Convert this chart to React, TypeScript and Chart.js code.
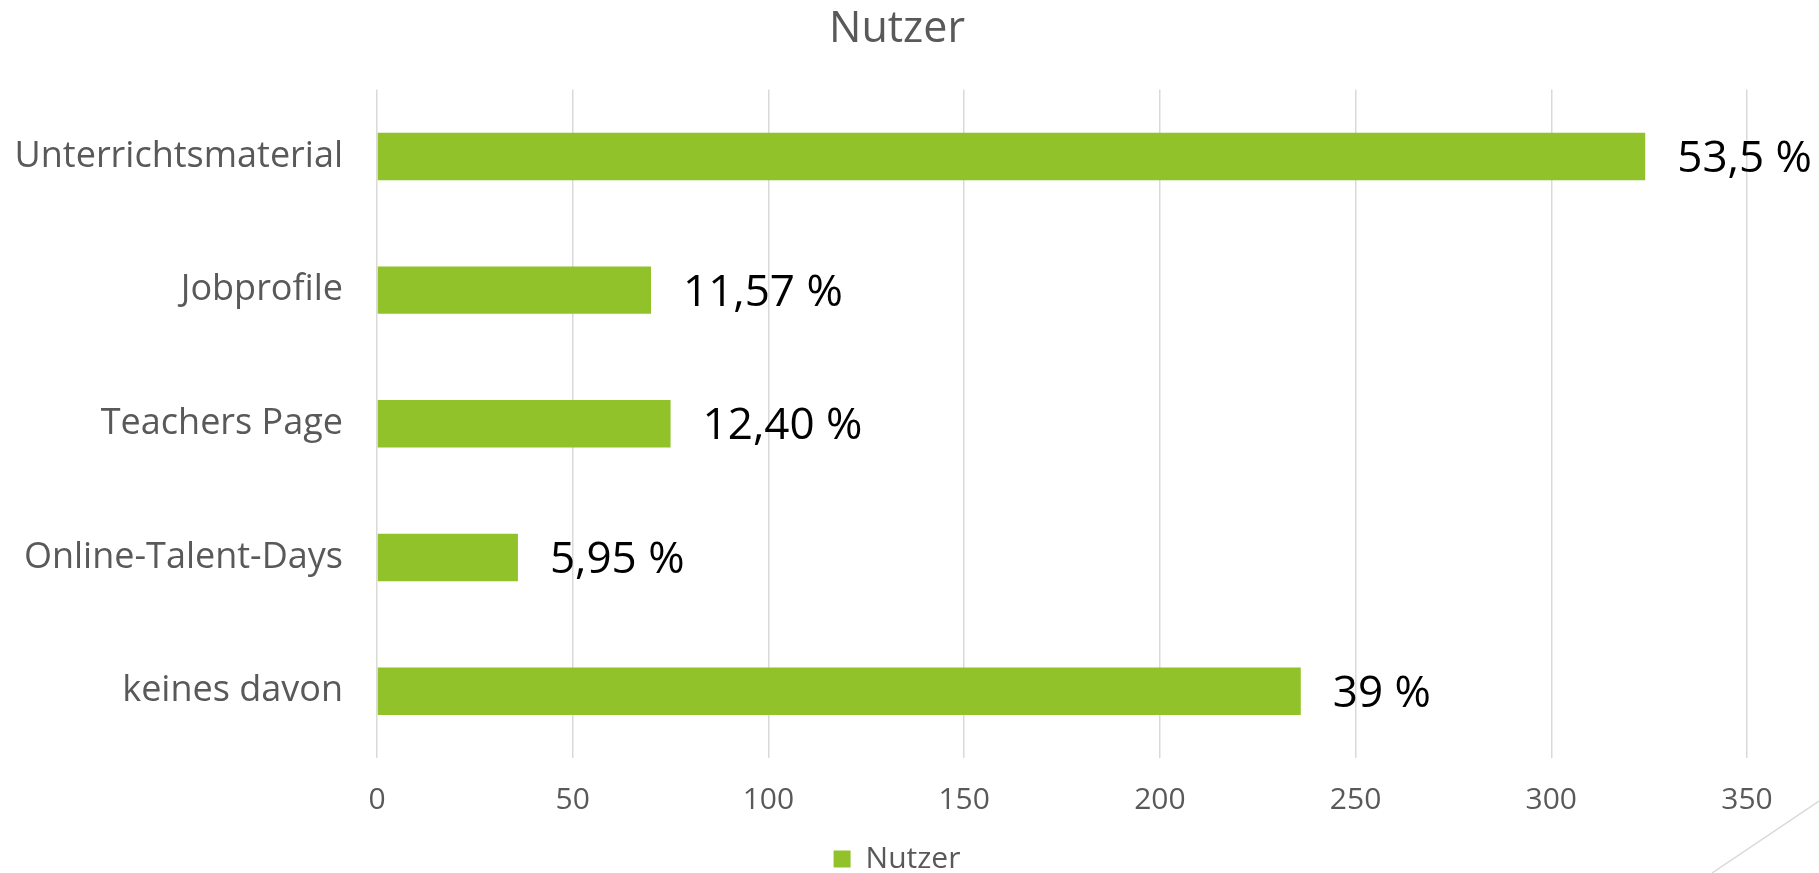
import React, { useEffect, useRef } from "react";
import { Chart, registerables } from "chart.js";

Chart.register(...registerables);

// ---- data ----
const chartTitle = "Nutzer";
const seriesName = "Nutzer";
const categories = [
  "Unterrichtsmaterial",
  "Jobprofile",
  "Teachers Page",
  "Online-Talent-Days",
  "keines davon",
];
const users = [324, 70, 75, 36, 236];
const percentLabels = ["53,5 %", "11,57 %", "12,40 %", "5,95 %", "39 %"];
const xMin = 0;
const xMax = 350;
const xStep = 50;

// ---- styles ----
const FONT = "'Open Sans', 'DejaVu Sans', sans-serif";
const GREY_TEXT = "#595959";
const GRID = "#d9d9d9";
const BAR = "#92C229";

const valueLabelPlugin = {
  id: "valueLabels",
  afterDatasetsDraw(chart: any) {
    const ctx = chart.ctx;
    const meta = chart.getDatasetMeta(0);
    ctx.save();
    ctx.font = `44px ${FONT}`;
    ctx.fillStyle = "#000000";
    ctx.textAlign = "left";
    ctx.textBaseline = "middle";
    meta.data.forEach((bar: any, i: number) => {
      const { x, y } = bar.getProps(["x", "y"], true);
      ctx.fillText(percentLabels[i], x + 32, y + 3);
    });
    ctx.restore();
  },
};

const cornerLinePlugin = {
  id: "cornerLine",
  afterDraw(chart: any) {
    const { ctx, width, height } = chart;
    ctx.save();
    ctx.strokeStyle = GRID;
    ctx.lineWidth = 1.5;
    ctx.beginPath();
    ctx.moveTo(width - 107, height);
    ctx.lineTo(width, height - 72);
    ctx.stroke();
    ctx.restore();
  },
};

export default function App() {
  const canvasRef = useRef<HTMLCanvasElement | null>(null);

  useEffect(() => {
    if (!canvasRef.current) return;
    const chart = new Chart(canvasRef.current, {
      type: "bar",
      data: {
        labels: categories,
        datasets: [
          {
            label: seriesName,
            data: users,
            backgroundColor: BAR,
            borderWidth: 0,
            barPercentage: 0.355,
            categoryPercentage: 1,
          },
        ],
      },
      options: {
        indexAxis: "y",
        responsive: false,
        animation: false,
        layout: { padding: { left: 0, right: 25, top: 0, bottom: -11 } },
        plugins: {
          title: {
            display: true,
            text: chartTitle,
            color: GREY_TEXT,
            font: { family: FONT, size: 43, weight: "normal" },
            padding: { top: 4, bottom: 34 },
          },
          legend: {
            display: true,
            position: "bottom",
            labels: {
              boxWidth: 17,
              boxHeight: 17,
              color: GREY_TEXT,
              font: { family: FONT, size: 30 },
              padding: 2,
            },
          },
          tooltip: { enabled: false },
        },
        scales: {
          x: {
            type: "linear",
            min: xMin,
            max: xMax,
            ticks: {
              stepSize: xStep,
              color: GREY_TEXT,
              font: { family: FONT, size: 30 },
              padding: 24,
            },
            grid: { color: GRID, lineWidth: 1.5, drawTicks: false },
            border: { display: false },
            afterFit: (s: any) => {
              s.height = 84;
              s.paddingRight = 72;
            },
          },
          y: {
            ticks: {
              color: GREY_TEXT,
              font: { family: FONT, size: 36 },
              padding: 34,
            },
            grid: { display: false, drawTicks: false },
            border: { display: false },
            afterFit: (s: any) => {
              s.width = 377;
            },
          },
        },
      },
      plugins: [valueLabelPlugin, cornerLinePlugin],
    } as any);
    return () => chart.destroy();
  }, []);

  return (
    <div
      style={{
        position: "fixed",
        left: 0,
        top: 0,
        width: 1819,
        height: 873,
        background: "#ffffff",
      }}
    >
      <canvas ref={canvasRef} width={1819} height={873} />
    </div>
  );
}
